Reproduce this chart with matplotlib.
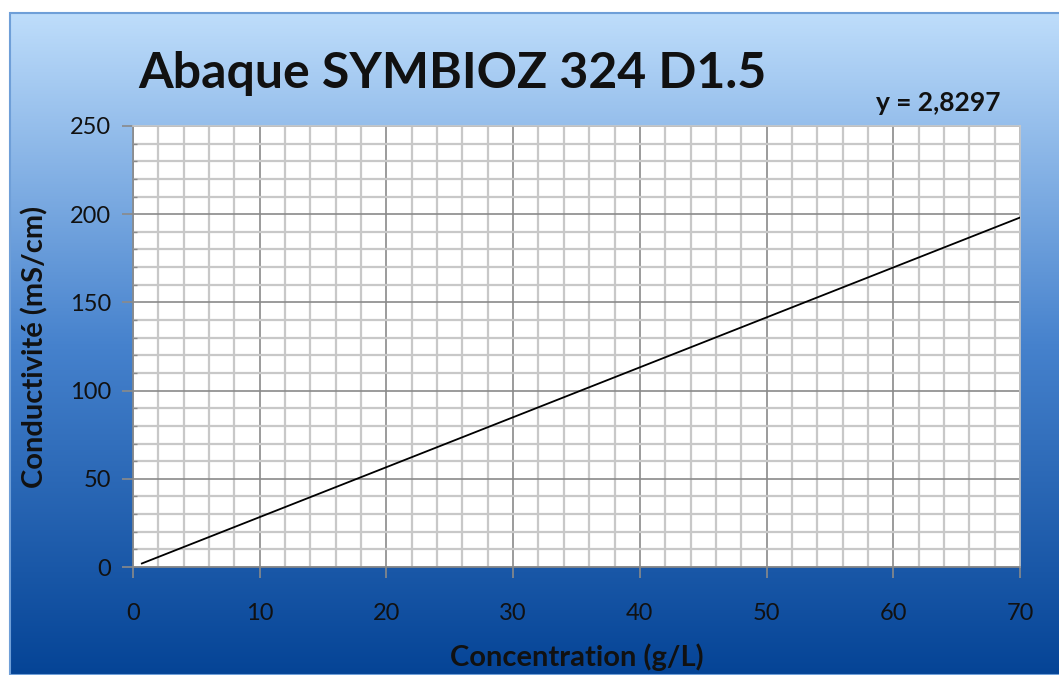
import matplotlib.pyplot as plt
import numpy as np
from matplotlib.ticker import MultipleLocator

# data
conc = [0.7, 10, 20, 30, 40, 50, 60, 70]
cond = [2.0, 28.3, 56.6, 84.9, 113.2, 141.5, 169.8, 198.1]
title = "Abaque SYMBIOZ 324 D1.5"
eq_text = "y = 2,8297"

plt.rcParams['font.family'] = ['Lato', 'DejaVu Sans']

fig = plt.figure(figsize=(10.59, 6.75), dpi=100)
fig.patch.set_facecolor('white')

# blue gradient panel behind the chart
bg = fig.add_axes([10/1059, 0, 1 - 10/1059, 1 - 13/675], zorder=-10)
top = np.array([190, 221, 251]) / 255
mid = np.array([70, 130, 205]) / 255
bot = np.array([5, 68, 150]) / 255
cols = np.zeros((256, 1, 3))
for i in range(256):
    f = i / 255
    if f < 0.5:
        cols[i, 0] = top + (mid - top) * f / 0.5
    else:
        cols[i, 0] = mid + (bot - mid) * (f - 0.5) / 0.5
bg.imshow(cols, aspect='auto', extent=[0, 1, 0, 1])
bg.set_axis_off()
fig.add_artist(plt.Rectangle((10/1059, 0), 1, 1 - 13/675, transform=fig.transFigure,
                             fill=False, edgecolor='#6f9fd8', lw=1.5))

ax = fig.add_axes([133/1059, 1 - 567/675, (1020 - 133)/1059, (567 - 126)/675])
ax.set_facecolor('white')
ax.plot(conc, cond, color='black', lw=1.3, zorder=5)

ax.set_xlim(0, 70)
ax.set_ylim(0, 250)
ax.xaxis.set_major_locator(MultipleLocator(10))
ax.xaxis.set_minor_locator(MultipleLocator(2))
ax.yaxis.set_major_locator(MultipleLocator(50))
ax.yaxis.set_minor_locator(MultipleLocator(10))
ax.grid(which='minor', color='#c8c8c8', lw=1.6)
ax.grid(which='major', color='#8a8a8a', lw=1.2)
ax.set_axisbelow(True)

for s in ax.spines.values():
    s.set_color('#8a8a8a')
    s.set_linewidth(1.2)
ax.spines['top'].set_color('#c8c8c8')
ax.spines['right'].set_color('#c8c8c8')

ax.tick_params(which='major', length=8, width=1.2, color='#8a8a8a', labelsize=17,
               labelcolor='#111111')
ax.tick_params(axis='x', which='major', pad=18)
ax.tick_params(axis='y', which='major', pad=8)
ax.tick_params(which='minor', length=3, width=1, color='#8a8a8a', direction='in')
ax.tick_params(axis='x', which='minor', length=0)

fig.text(577/1059, 1 - 657/675, "Concentration (g/L)", fontsize=21, fontweight='bold',
         ha='center', va='center', color='#111111')
fig.text(35/1059, 1 - 347/675, "Conductivité (mS/cm)", fontsize=21, fontweight='bold',
         ha='center', va='center', rotation=90, color='#111111')

fig.text(138/1059, 1 - 88/675, title, fontsize=36, fontweight='bold', ha='left',
         va='baseline', color='#111111')
fig.text(1000/1059, 1 - 103/675, eq_text, fontsize=19, fontweight='bold', ha='right',
         va='center', color='#111111')

fig.savefig("out.png", dpi=100)
